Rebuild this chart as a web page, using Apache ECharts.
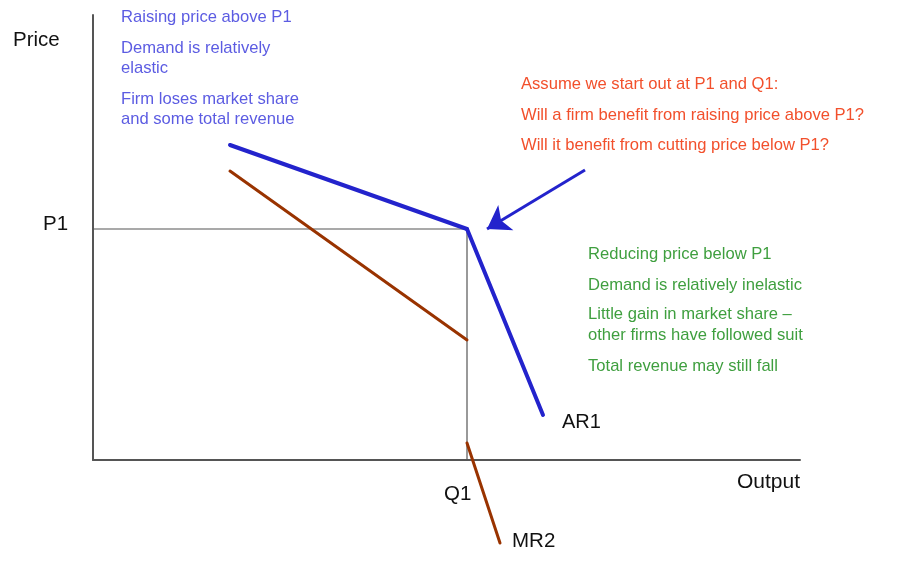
<!DOCTYPE html>
<html><head><meta charset="utf-8">
<script src="https://cdn.jsdelivr.net/npm/echarts@6/dist/echarts.min.js"></script>
<style>html,body{margin:0;padding:0;background:#fff}#c{width:902px;height:563px}</style>
</head><body><div id="c"></div>
<script>
// Data (output units along x, price units along y)
const P1 = 231;
const Q1 = 374;
const arUpper = [[137, 315], [374, 231]];
const arLower = [[374, 231], [450, 45]];
const mrUpper = [[137, 289], [374, 120]];
const mrLower = [[374, 17], [407, -83]];
const guideP1 = [[0, 231], [374, 231]];
const guideQ1 = [[374, 231], [374, 0]];
const arrow = [[492, 290], [394, 231]];

const blueTexts = ["Raising price above P1", "Demand is relatively\nelastic", "Firm loses market share\nand some total revenue"];
const redTexts = ["Assume we start out at P1 and Q1:", "Will a firm benefit from raising price above P1?", "Will it benefit from cutting price below P1?"];
const greenTexts = ["Reducing price below P1", "Demand is relatively inelastic", "Little gain in market share \u2013\nother firms have followed suit", "Total revenue may still fall"];

const FONT = 'Liberation Sans, Arial, sans-serif';
const chart = echarts.init(document.getElementById('c'));
const gray = '#555';
function txt(x, y, t, color, size, lh) {
  return {type: 'text', x: x, y: y, z: 10,
    style: {text: t, fill: color, font: size + 'px ' + FONT, lineHeight: lh || size, align: 'left', verticalAlign: 'middle'}};
}
const BLUE = '#5c5ce2', RED = '#f2502c', GREEN = '#3f9f3f', S = 16.6;
const graphics = [
  txt(13, 40, 'Price', '#111', 20.5),
  txt(737, 482, 'Output', '#111', 21),
  txt(43, 224, 'P1', '#111', 20.5),
  txt(444, 494, 'Q1', '#111', 20.5),
  txt(562, 422, 'AR1', '#111', 20),
  txt(512, 541, 'MR2', '#111', 20.5),
  txt(121, 17.5, blueTexts[0], BLUE, S),
  txt(121, 58.5, blueTexts[1], BLUE, S, 20),
  txt(121, 109.5, blueTexts[2], BLUE, S, 20),
  txt(521, 84.5, redTexts[0], RED, S),
  txt(521, 115.5, redTexts[1], RED, S),
  txt(521, 145.5, redTexts[2], RED, S),
  txt(588, 254.5, greenTexts[0], GREEN, S),
  txt(588, 285.5, greenTexts[1], GREEN, S),
  txt(588, 325, greenTexts[2], GREEN, S, 21),
  txt(588, 366.5, greenTexts[3], GREEN, S)
];
function seg(data, color, width, z) {
  return {type: 'line', data: data, symbol: 'none', clip: false, silent: true, z: z || 2,
    lineStyle: {color: color, width: width, cap: 'round', join: 'round'}};
}
chart.setOption({
  animation: false,
  grid: {left: 93, top: 15, width: 707, height: 445},
  xAxis: {type: 'value', min: 0, max: 707, axisLine: {show: true, lineStyle: {color: gray, width: 2}},
    axisTick: {show: false}, axisLabel: {show: false}, splitLine: {show: false}},
  yAxis: {type: 'value', min: 0, max: 445, axisLine: {show: true, lineStyle: {color: gray, width: 2}},
    axisTick: {show: false}, axisLabel: {show: false}, splitLine: {show: false}},
  series: [
    seg(guideP1, gray, 1.2, 1),
    seg(guideQ1, gray, 1.2, 1),
    seg(mrUpper, '#993300', 3),
    seg(mrLower, '#993300', 3),
    seg(arUpper, '#2323cc', 4, 3),
    seg(arLower, '#2323cc', 4, 3),
    {type: 'lines', coordinateSystem: 'cartesian2d', silent: true, z: 3,
      symbol: ['none', 'arrow'], symbolSize: [0, 22],
      lineStyle: {color: '#2323cc', width: 3, opacity: 1},
      data: [{coords: arrow}]}
  ],
  graphic: graphics
});
</script></body></html>
